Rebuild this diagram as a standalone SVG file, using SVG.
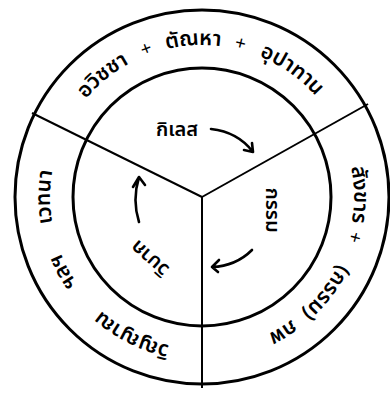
<svg xmlns="http://www.w3.org/2000/svg" width="390" height="394" viewBox="0 0 390 394">
<style>
.ring{fill:none;stroke:#000;stroke-width:3}
.spoke{fill:none;stroke:#000;stroke-width:2}
.arr{fill:none;stroke:#000;stroke-width:2.6;stroke-linecap:round;stroke-linejoin:round}
text{font-family:"Noto Sans Thai","Noto Looped Thai","Noto Sans","DejaVu Sans",sans-serif;fill:#000;font-weight:600}
.o{font-size:21px}
.p{font-size:19px;font-weight:400}
.i{font-size:20px}
</style>
<defs>
<path id="tp" d="M202,349 A152,152 0 1 1 202,45 A152,152 0 1 1 202,349"/>
</defs>
<rect width="390" height="394" fill="#fff"/>
<g id="wheel">
<circle class="ring" cx="202" cy="197" r="187"/>
<circle class="ring" cx="202" cy="197" r="129"/>
</g>
<g id="connectors">
<line class="spoke" x1="202" y1="197" x2="32" y2="113"/>
<line class="spoke" x1="202" y1="197" x2="368" y2="104"/>
<line class="spoke" x1="202" y1="197" x2="202" y2="388"/>
<path class="arr" d="M211,129 Q238,132 253,152 M252,143 L253,152 L244,150"/>
<path class="arr" d="M252,250 Q236,266 212,267 M219,260 L212,267 L218,272"/>
<path class="arr" d="M139,222 Q132,200 139,177 M133,187 L139,177 L145,185"/>
</g>
<g id="kilesa">
<text class="i" x="177" y="136" text-anchor="middle">กิเลส</text>
<text class="o"><textPath href="#tp" startOffset="373.3" text-anchor="middle">อวิชชา</textPath></text>
<text class="p"><textPath href="#tp" startOffset="422.4" text-anchor="middle">+</textPath></text>
<text class="o"><textPath href="#tp" startOffset="468.8" text-anchor="middle">ตัณหา</textPath></text>
<text class="p"><textPath href="#tp" startOffset="514.7" text-anchor="middle">+</textPath></text>
<text class="o"><textPath href="#tp" startOffset="570.9" text-anchor="middle">อุปาทาน</textPath></text>
</g>
<g id="kamma">
<text class="i" transform="translate(272,210) rotate(90)" x="0" y="6" text-anchor="middle">กรรม</text>
<text class="o"><textPath href="#tp" startOffset="713.7" text-anchor="middle">สังขาร</textPath></text>
<text class="p"><textPath href="#tp" startOffset="755.3" text-anchor="middle">+</textPath></text>
<text class="o"><textPath href="#tp" startOffset="815.8" text-anchor="middle">(กรรม)</textPath></text>
<text class="o"><textPath href="#tp" startOffset="872.8" text-anchor="middle">ภพ</textPath></text>
</g>
<g id="vipaka">
<text class="i" transform="translate(150,258) rotate(221.6)" x="0" y="6" text-anchor="middle">วิบาก</text>
<text class="o"><textPath href="#tp" startOffset="71.6" text-anchor="middle">วิญญาณ</textPath></text>
<text class="o"><textPath href="#tp" startOffset="163.7" text-anchor="middle">ฯลฯ</textPath></text>
<text class="o"><textPath href="#tp" startOffset="238.8" text-anchor="middle">เวทนา</textPath></text>
</g>
</svg>
